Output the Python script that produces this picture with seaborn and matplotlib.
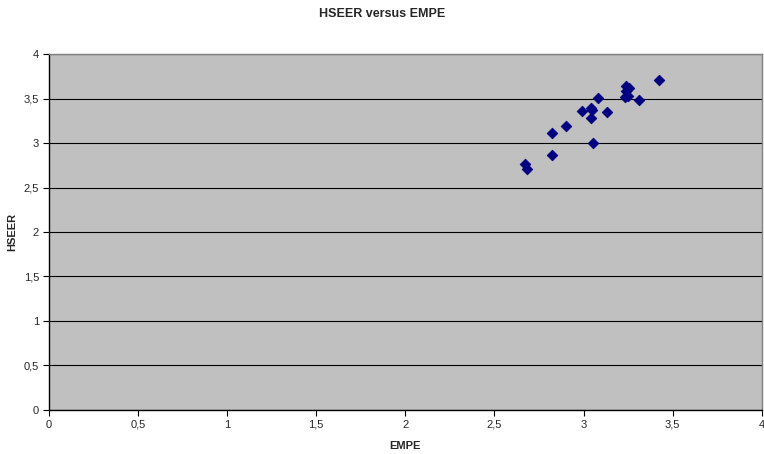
import matplotlib
matplotlib.use("Agg")
import matplotlib.pyplot as plt
import matplotlib.ticker as mticker
import seaborn as sns
import pandas as pd

empe = [3.424, 3.311, 3.081, 2.992, 3.040, 3.050, 3.040, 3.130, 2.904, 2.822,
        3.053, 2.822, 2.672, 2.683, 3.237, 3.255, 3.240, 3.231, 3.252]
hseer = [3.708, 3.480, 3.509, 3.360, 3.390, 3.370, 3.285, 3.348, 3.187, 3.109,
         2.996, 2.869, 2.764, 2.712, 3.640, 3.620, 3.585, 3.517, 3.530]

df = pd.DataFrame({"EMPE": empe, "HSEER": hseer})

sns.set_theme(style="white")
plt.rcParams['font.family'] = ['Liberation Sans', 'DejaVu Sans']

fig = plt.figure(figsize=(7.64, 4.54), dpi=100)
ax = fig.add_axes([0.064, 0.097, 0.933, 0.784])
ax.set_facecolor("#C0C0C0")

sns.scatterplot(data=df, x="EMPE", y="HSEER", marker="D", color="#000080",
                s=30, edgecolor="#000080", linewidth=0.5, ax=ax, zorder=3)

ax.set_xlim(0, 4)
ax.set_ylim(0, 4)
ticks = [0, 0.5, 1, 1.5, 2, 2.5, 3, 3.5, 4]
ax.set_xticks(ticks)
ax.set_yticks(ticks)
fmt = mticker.FuncFormatter(lambda v, p: ("%g" % v).replace(".", ","))
ax.xaxis.set_major_formatter(fmt)
ax.yaxis.set_major_formatter(fmt)
ax.yaxis.grid(True, color="black", linewidth=0.8)
ax.xaxis.grid(False)
ax.set_axisbelow(True)

for s in ["top", "right"]:
    ax.spines[s].set_color("#808080")
    ax.spines[s].set_linewidth(1.0)
for s in ["left", "bottom"]:
    ax.spines[s].set_color("black")
    ax.spines[s].set_linewidth(1.0)

ax.tick_params(axis="both", which="major", labelsize=8, direction="out",
               length=4, width=0.8, color="black", left=True, bottom=True, pad=3)

ax.set_xlabel("EMPE", fontsize=8, fontweight="bold", labelpad=8)
ax.set_ylabel("HSEER", fontsize=8, fontweight="bold", labelpad=5)
fig.suptitle("HSEER versus EMPE", fontsize=9, fontweight="bold", y=0.982)

fig.savefig("out.png", dpi=100)
